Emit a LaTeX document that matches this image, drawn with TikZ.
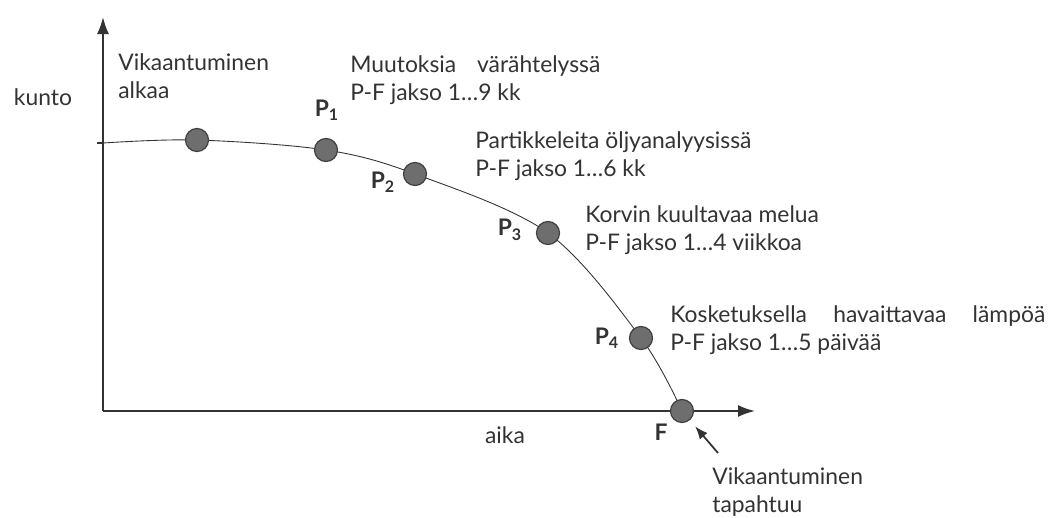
\documentclass[tikz,border=0pt]{standalone}
\usepackage{fontspec}
\setmainfont{Lato}
\usetikzlibrary{arrows.meta}
\definecolor{inkgray}{HTML}{333333}
\definecolor{dotgray}{HTML}{6E6E6E}
\begin{document}
\begin{tikzpicture}[x=0.2mm,y=-0.2mm,font=\fontsize{13}{15.6}\selectfont,text=inkgray]
\tikzset{dot/.style={circle,draw=black!75,fill=dotgray,line width=0.7pt,minimum size=4.6mm,inner sep=0pt}}
\tikzset{plabel/.style={font=\fontsize{13}{15.6}\selectfont\bfseries,inner sep=0pt}}
\tikzset{note/.style={align=left,anchor=west,inner sep=0pt}}
\tikzset{axis/.style={line width=1.1pt,draw=inkgray,-{Latex[length=3.4mm,width=2.4mm]}}}
\useasboundingbox (0,0) rectangle (1050,517);
%axes
\coordinate (o) at (103,411);
\coordinate (ytop) at (103,17);
\coordinate (xend) at (755,411);
\draw[axis] (o)--(ytop);
\draw[axis] (o)--(xend);
\draw[line width=0.8pt,inkgray] (97,143)--(103,143);
%curve through the points
\coordinate (k0) at (103,143);
\coordinate (a) at (197,140);
\coordinate (p1) at (326,150);
\coordinate (p2) at (415,174);
\coordinate (p3) at (548,233);
\coordinate (p4) at (641,338);
\coordinate (f) at (682,411);
\draw[line width=0.5pt,inkgray] plot[smooth,tension=0.55] coordinates {(k0) (a) (p1) (p2) (p3) (p4) (f)};
\foreach \n in {a,p1,p2,p3,p4,f}{
\node[dot] (dot-\n) at (\n) {};}
%point labels
\node[plabel] (lp1) at (327,110) {P\textsubscript{1}};
\node[plabel] (lp2) at (383,182) {P\textsubscript{2}};
\node[plabel] (lp3) at (510,230) {P\textsubscript{3}};
\node[plabel] (lp4) at (607,338) {P\textsubscript{4}};
\node[plabel] (lf) at (661,432) {F};
%texts
\node (kunto) at (43,97) {kunto};
\node (aika) at (505,435) {aika};
\node[note] (alkaa) at (118,76) {Vikaantuminen\\alkaa};
\node[note] (t1) at (350,80) {\makebox[5cm][s]{Muutoksia värähtelyssä}\\P-F jakso 1…9 kk};
\node[note] (t2) at (475,156) {Partikkeleita öljyanalyysissä\\P-F jakso 1…6 kk};
\node[note] (t3) at (585,230) {Korvin kuultavaa melua\\P-F jakso 1…4 viikkoa};
\node[note] (t4) at (670,330) {\makebox[7.5cm][s]{Kosketuksella havaittavaa lämpöä}\\P-F jakso 1…5 päivää};
\node[note] (tap) at (712,492) {Vikaantuminen\\tapahtuu};
%pointer to F
\coordinate (tail) at (718,453);
\draw[line width=1pt,inkgray,-{Latex[length=2.6mm,width=2mm]},shorten >=1.6mm] (tail)--(dot-f);
\end{tikzpicture}
\end{document}
